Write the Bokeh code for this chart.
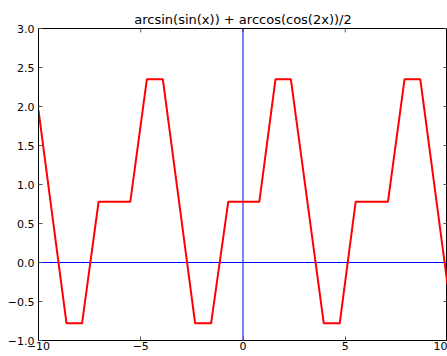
from bokeh.plotting import figure
from bokeh.models import Range1d, FixedTicker, LinearAxis
from bokeh.embed import file_html
from bokeh.resources import INLINE

title_text = "arcsin(sin(x)) + arccos(cos(2x))/2"

# vertices of the red curve
curve_x = [-10.0, -8.63, -7.87, -7.06, -5.51, -4.70, -3.92, -2.34, -1.56,
           -0.72, 0.80, 1.59, 2.34, 3.95, 4.73, 5.51, 7.09, 7.90, 8.67, 10.0]
curve_y = [1.95, -0.78, -0.78, 0.78, 0.78, 2.35, 2.35, -0.78, -0.78,
           0.78, 0.78, 2.35, 2.35, -0.78, -0.78, 0.78, 0.78, 2.35, 2.35, -0.28]

x_ticks = [-10, -5, 0, 5, 10]
x_tick_labels = ["\u221210", "\u22125", "0", "5", "10"]
y_ticks = [-1.0, -0.5, 0.0, 0.5, 1.0, 1.5, 2.0, 2.5, 3.0]
y_tick_labels = ["\u22121.0", "\u22120.5", "0.0", "0.5", "1.0", "1.5", "2.0", "2.5", "3.0"]

FONT = "DejaVu Sans"
X_MIN, X_MAX = -10, 10
Y_MIN, Y_MAX = -1, 3
TICK_LEN_X = 0.2    # inward tick length on the right edge, in x units (~4px)
TICK_LEN_Y = 0.05   # inward tick length on the top edge, in y units (~4px)

p = figure(width=447, height=356, output_backend="svg", toolbar_location=None,
           x_range=Range1d(X_MIN, X_MAX), y_range=Range1d(Y_MIN, Y_MAX),
           x_axis_location=None, y_axis_location=None,
           min_border_left=38, min_border_right=0, min_border_top=28, min_border_bottom=16)
p.title.text = title_text
p.title.align = "center"
p.title.text_font = FONT
p.title.text_font_size = "13px"
p.title.text_font_style = "normal"
p.title.text_color = "black"
p.title.standoff = 3
p.xgrid.visible = False
p.ygrid.visible = False
p.outline_line_color = "black"
p.outline_line_width = 1
p.background_fill_color = "white"
p.border_fill_color = "white"


def style_axis(ax, ticks, labels):
    ax.ticker = FixedTicker(ticks=ticks)
    ax.major_label_overrides = {t: l for t, l in zip(ticks, labels)}
    ax.major_tick_in = 4
    ax.major_tick_out = 0
    ax.minor_tick_in = 0
    ax.minor_tick_out = 0
    ax.major_tick_line_color = "#555555"
    ax.axis_line_color = "black"
    ax.major_label_text_font = FONT
    ax.major_label_text_font_size = "11px"
    ax.major_label_text_color = "black"
    ax.major_label_standoff = 4


left = LinearAxis()
style_axis(left, y_ticks, y_tick_labels)
p.add_layout(left, "left")
bottom = LinearAxis()
style_axis(bottom, x_ticks, x_tick_labels)
bottom.major_label_standoff = 1
p.add_layout(bottom, "below")

# inward tick marks on the top and right edges of the frame
p.segment(x0=x_ticks, y0=[Y_MAX] * len(x_ticks),
          x1=x_ticks, y1=[Y_MAX - TICK_LEN_Y] * len(x_ticks),
          line_color="#555555", line_width=1)
p.segment(x0=[X_MAX] * len(y_ticks), y0=y_ticks,
          x1=[X_MAX - TICK_LEN_X] * len(y_ticks), y1=y_ticks,
          line_color="#555555", line_width=1)

# zero lines (x axis and y axis through the origin)
p.line([X_MIN, X_MAX], [0, 0], line_color="#0000ff", line_width=1)
p.line([0, 0], [Y_MIN, Y_MAX], line_color="#0000ff", line_width=1)

# red curve
p.line(curve_x, curve_y, line_color="red", line_width=2)

open("out.html", "w").write(file_html(p, INLINE))
